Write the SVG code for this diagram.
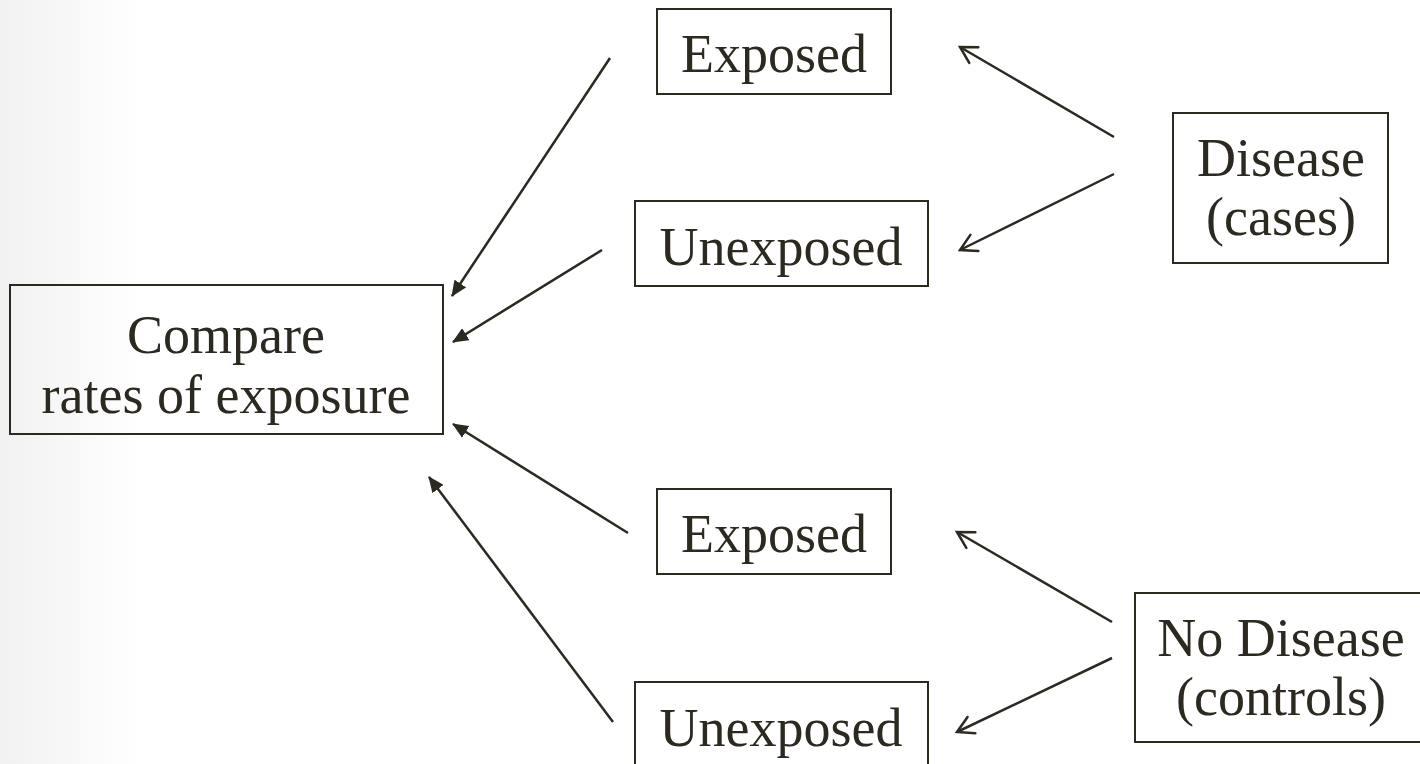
<svg xmlns="http://www.w3.org/2000/svg" width="1420" height="764" viewBox="0 0 1420 764">
<defs>
<linearGradient id="bg" x1="0" y1="0" x2="1" y2="0">
<stop offset="0" stop-color="#f1f1f1"/>
<stop offset="0.5" stop-color="#f8f8f8"/>
<stop offset="1" stop-color="#ffffff"/>
</linearGradient>
<marker id="filled" markerUnits="userSpaceOnUse" markerWidth="18" markerHeight="14" refX="15" refY="7" orient="auto">
<path d="M0,0 L16,7 L0,14 z" fill="#2b2920"/>
</marker>
<marker id="open" markerUnits="userSpaceOnUse" markerWidth="22" markerHeight="22" refX="19" refY="11" orient="auto">
<path d="M3,2 L19,11 L3,20" fill="none" stroke="#2b2920" stroke-width="2.5" stroke-linecap="round" stroke-linejoin="miter"/>
</marker>
<style>
.box{fill:none;stroke:#2b2920;stroke-width:2}
.t{font-family:"Liberation Serif","Times New Roman",serif;font-size:54px;fill:#2b2920;text-anchor:middle}
.c{stroke:#2b2920;stroke-width:2.5;fill:none}
.cf{marker-end:url(#filled)}
.co{marker-end:url(#open)}
</style>
</defs>
<rect x="0" y="0" width="1420" height="764" fill="#ffffff"/>
<rect x="0" y="0" width="140" height="764" fill="url(#bg)"/>

<g id="compare">
<rect class="box" x="10" y="285" width="433" height="149"/>
<text class="t" x="226" y="353">Compare</text>
<text class="t" x="226" y="413">rates of exposure</text>
</g>
<g id="exposed-top">
<rect class="box" x="657" y="9" width="234" height="85"/>
<text class="t" x="774" y="72">Exposed</text>
</g>
<g id="unexposed-top">
<rect class="box" x="635" y="201" width="293" height="85"/>
<text class="t" x="781" y="265">Unexposed</text>
</g>
<g id="exposed-bottom">
<rect class="box" x="657" y="489" width="234" height="85"/>
<text class="t" x="774" y="552">Exposed</text>
</g>
<g id="unexposed-bottom">
<rect class="box" x="635" y="682" width="293" height="90"/>
<text class="t" x="781" y="746">Unexposed</text>
</g>
<g id="disease">
<rect class="box" x="1173" y="113" width="215" height="150"/>
<text class="t" x="1281" y="176">Disease</text>
<text class="t" x="1281" y="235">(cases)</text>
</g>
<g id="no-disease">
<rect class="box" x="1135" y="593" width="295" height="149"/>
<text class="t" x="1281" y="656">No Disease</text>
<text class="t" x="1281" y="715">(controls)</text>
</g>

<g id="connectors">
<line class="c cf" x1="610" y1="58" x2="452" y2="296"/>
<line class="c cf" x1="602" y1="250" x2="453" y2="342"/>
<line class="c cf" x1="628" y1="533" x2="453" y2="424"/>
<line class="c cf" x1="613" y1="722" x2="429" y2="477"/>
<line class="c co" x1="1114" y1="137" x2="960" y2="47"/>
<line class="c co" x1="1114" y1="174" x2="960" y2="250"/>
<line class="c co" x1="1112" y1="622" x2="957" y2="532"/>
<line class="c co" x1="1112" y1="658" x2="957" y2="732"/>
</g>
</svg>
